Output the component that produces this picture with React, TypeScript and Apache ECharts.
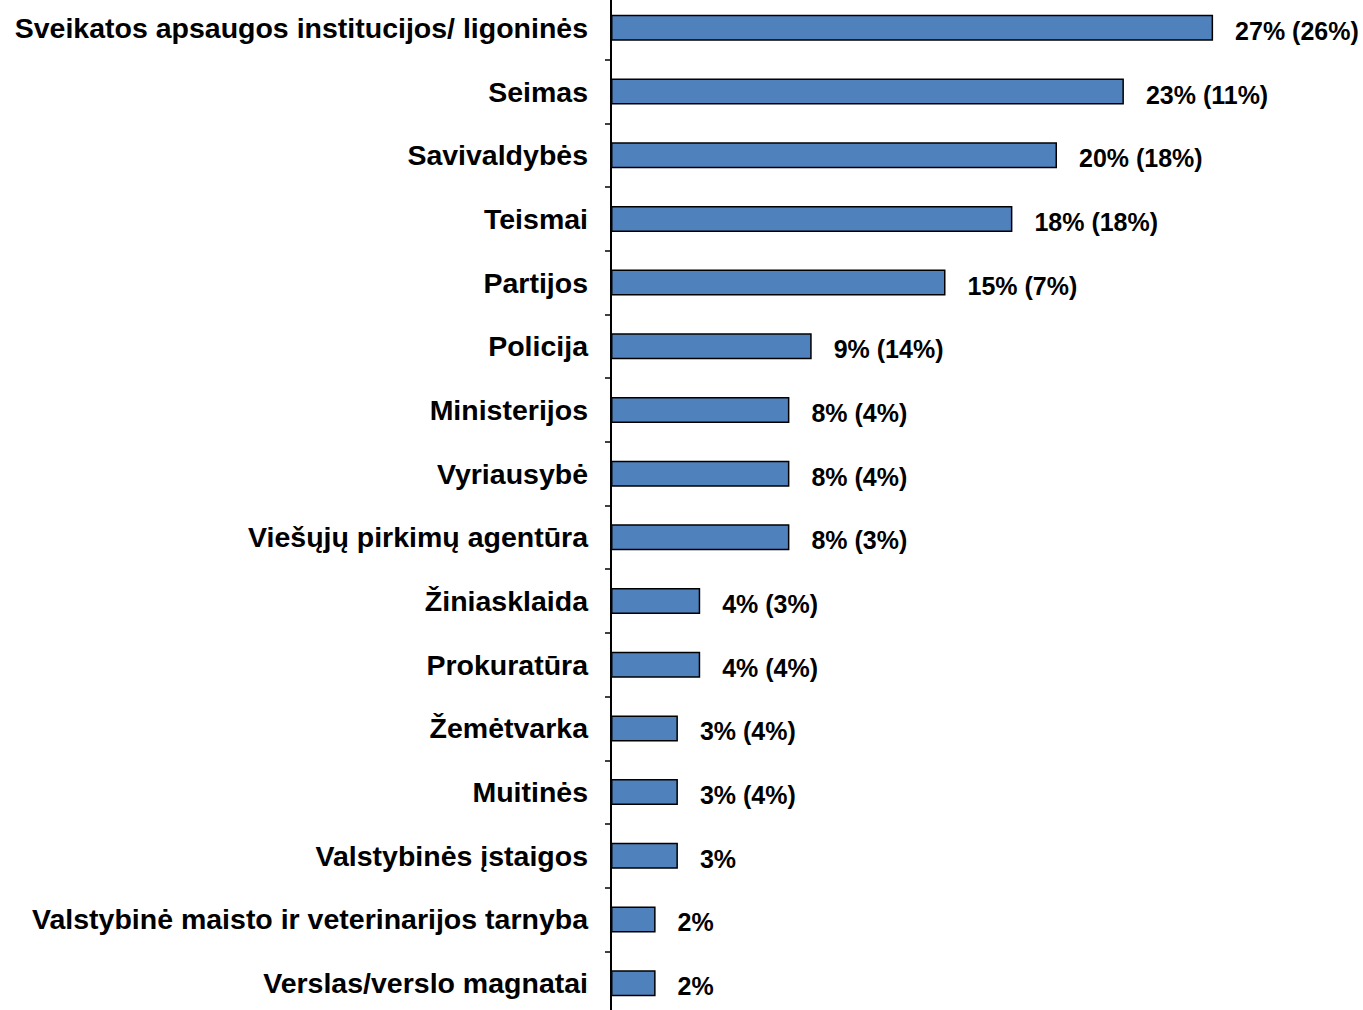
import React, { useEffect, useRef } from "react";
import * as echarts from "echarts";

const categories: string[] = [
  "Sveikatos apsaugos institucijos/ ligoninės",
  "Seimas",
  "Savivaldybės",
  "Teismai",
  "Partijos",
  "Policija",
  "Ministerijos",
  "Vyriausybė",
  "Viešųjų pirkimų agentūra",
  "Žiniasklaida",
  "Prokuratūra",
  "Žemėtvarka",
  "Muitinės",
  "Valstybinės įstaigos",
  "Valstybinė maisto ir veterinarijos tarnyba",
  "Verslas/verslo magnatai",
];

const currentValues: number[] = [27, 23, 20, 18, 15, 9, 8, 8, 8, 4, 4, 3, 3, 3, 2, 2];
const previousValues: (number | null)[] = [26, 11, 18, 18, 7, 14, 4, 4, 3, 3, 4, 4, 4, null, null, null];

const titleText = "(skliausteliuose pateikti ankstesnio 2008 m. tyrimo duomenys)";

export default function App() {
  const ref = useRef<HTMLDivElement>(null);

  useEffect(() => {
    if (!ref.current) return;
    const chart = echarts.init(ref.current, undefined, { renderer: "svg" });
    const font = "'Liberation Sans', Arial, sans-serif";
    chart.setOption({
      animation: false,
      backgroundColor: "#ffffff",
      graphic: [
        {
          type: "text",
          left: 74,
          top: -24,
          style: {
            text: titleText,
            font: `italic bold 26px ${font}`,
            fill: "#3333aa",
          },
        },
      ],
      grid: {
        left: 611,
        right: 83,
        top: 0,
        bottom: 1,
        containLabel: false,
      },
      xAxis: {
        type: "value",
        min: 0,
        max: 30,
        show: false,
      },
      yAxis: {
        type: "category",
        data: categories,
        inverse: true,
        axisLine: { show: true, lineStyle: { color: "#000", width: 2 } },
        axisTick: { show: true, length: 6, lineStyle: { color: "#000", width: 1.5 } },
        axisLabel: {
          margin: 23,
          color: "#000",
          fontFamily: font,
          fontWeight: "bold",
          fontSize: 28.5,
        },
      },
      series: [
        {
          type: "bar",
          data: currentValues,
          barWidth: 26,
          itemStyle: {
            color: "#4f81bd",
            borderColor: "#000",
            borderWidth: 1.5,
          },
          label: {
            show: true,
            position: "right",
            distance: 22,
            offset: [0, 3],
            color: "#000",
            fontFamily: font,
            fontWeight: "bold",
            fontSize: 25,
            formatter: (p: any) => {
              const prev = previousValues[p.dataIndex];
              return prev == null ? `${p.value}%` : `${p.value}% (${prev}%)`;
            },
          },
        },
      ],
    });
    return () => chart.dispose();
  }, []);

  return (
    <div
      ref={ref}
      style={{ position: "absolute", left: 0, top: -4, width: 1363, height: 1020 }}
    />
  );
}
